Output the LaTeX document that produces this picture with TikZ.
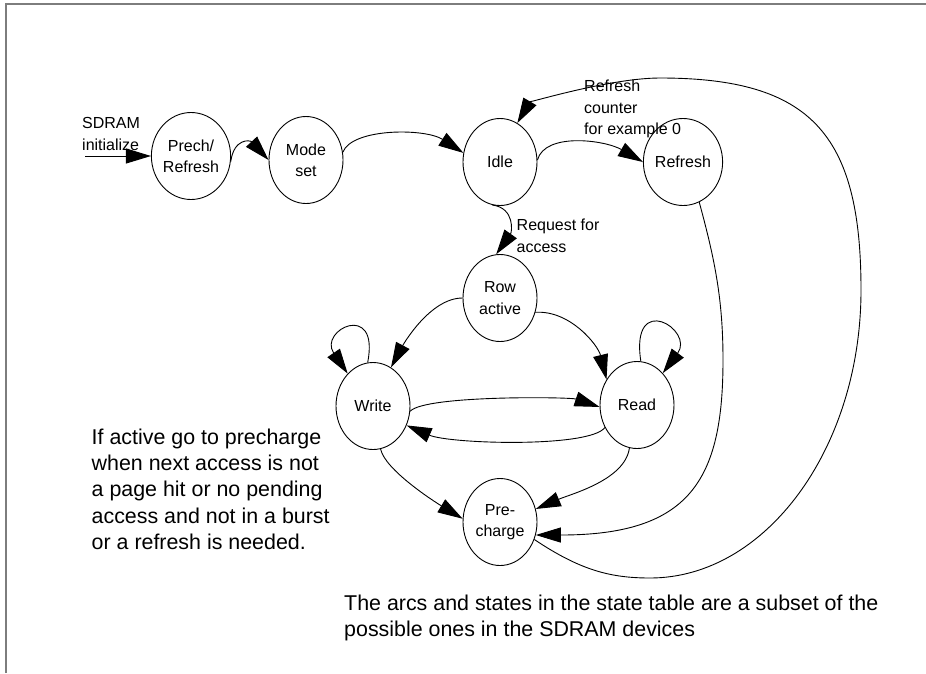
\documentclass[tikz,border=0pt]{standalone}
\usepackage{fontspec}
\setmainfont{Liberation Sans}
\usetikzlibrary{shapes.geometric,arrows.meta}
\definecolor{framegray}{RGB}{125,125,125}
\begin{document}
\begin{tikzpicture}[x=1pt,y=-1pt,
  state/.style={ellipse,draw,line width=0.9pt,minimum width=74pt,minimum height=87pt,inner sep=0pt,align=center,font=\fontsize{16}{21.3}\selectfont},
  edge/.style={line width=0.9pt,-{Triangle[length=25pt,width=15pt]}},
  lbl/.style={anchor=north west,inner sep=0pt,align=left,font=\fontsize{16}{21.3}\selectfont},
  big/.style={anchor=north west,inner sep=0pt,align=left,font=\fontsize{21.4}{26.3}\selectfont},
  frame/.style={line width=2pt,draw=framegray}]
\useasboundingbox (0,0) rectangle (926,673);
\draw[frame] (5.5,673) -- (5.5,3.5) -- (926,3.5);

\node[state] (prech) at (191,156) {Prech/\\Refresh};
\node[state] (mode) at (306,160) {Mode\\set};
\node[state] (idle) at (500,162) {Idle};
\node[state] (refresh) at (683,162) {Refresh};
\node[state] (row) at (500,298) {Row\\active};
\node[state] (write) at (373,406) {Write};
\node[state] (read) at (637,405) {Read};
\node[state] (pre) at (500,522) {Pre-\\charge};
\coordinate (init) at (85,156);

\node[lbl] (sdram) at (82,117.5) {SDRAM\\initialize};
\node[lbl] (rcnt) at (584,80) {Refresh\\counter\\for example 0};
\node[lbl] (req) at (516.5,219) {Request for\\access};
\node[big] (note) at (91.5,428.5) {If active go to precharge\\when next access is not\\a page hit or no pending\\access and not in a burst\\or a refresh is needed.};
\node[big] (foot) at (344,594.4) {The arcs and states in the state table are a subset of the\\possible ones in the SDRAM devices};

\draw[edge] (init) -- (prech.west);
\draw[edge] (prech.-8) .. controls (234,138) and (250,140) .. (mode.west);
\draw[edge] (mode.12) .. controls (352,128) and (425,128) .. (idle.166);
\draw[edge] (idle.3) .. controls (545,132) and (605,140) .. (refresh.west);
\draw[edge] (idle.-100) .. controls (515,208) and (512,232) .. (row.95);
\draw[edge] (pre.-27) .. controls (580,570) and (610,578) .. (650,578) .. controls (766,578) and (861,448) .. (861,290) .. controls (861,134) and (811,78) .. (660,78) .. controls (610,78) and (529,103) .. (idle.66);
\draw[edge] (refresh.-68) .. controls (715,260) and (723,300) .. (723,360) .. controls (723,480) and (690,535) .. (pre.-20);
\draw[edge] (read.-100) .. controls (625,480) and (571,494) .. (pre.20);
\draw[edge] (write.-80) .. controls (385,470) and (435,502) .. (pre.175);
\draw[edge] (write.-8) .. controls (425,395) and (570,397) .. (read.183);
\draw[edge] (read.215) .. controls (590,448) and (450,444) .. (write.-30);
\draw[edge] (row.west) .. controls (430,298) and (403,345) .. (write.65);
\draw[edge] (row.-22) .. controls (570,310) and (598,345) .. (read.140);
\draw[edge] (write.97) .. controls (380,300) and (318,330) .. (write.128);
\draw[edge] (read.85) .. controls (630,290) and (695,330) .. (read.51);
\end{tikzpicture}
\end{document}
